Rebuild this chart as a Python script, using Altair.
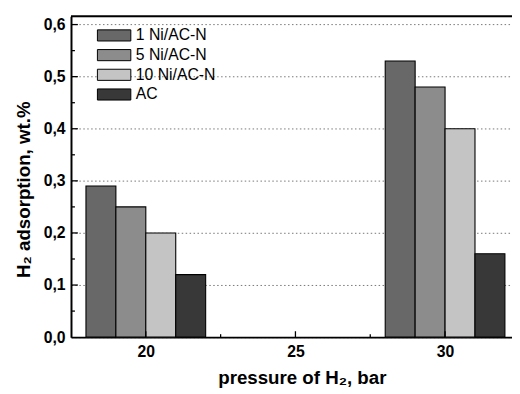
import altair as alt
import pandas as pd

# ---- data ----
pressures = [20, 30]
series = ["1 Ni/AC-N", "5 Ni/AC-N", "10 Ni/AC-N", "AC"]
values_20 = [0.29, 0.25, 0.20, 0.12]
values_30 = [0.53, 0.48, 0.40, 0.16]
colors = ["#686868", "#8c8c8c", "#c4c4c4", "#383838"]

y_major = [0.1, 0.2, 0.3, 0.4, 0.5, 0.6]
y_minor = [0.05, 0.15, 0.25, 0.35, 0.45, 0.55]
x_major = [20, 25, 30]
x_minor = [22.5, 27.5]

rows = []
for p, vals in zip(pressures, [values_20, values_30]):
    for i, (s, v) in enumerate(zip(series, vals)):
        rows.append({"pressure": p, "series": s, "value": v,
                     "x0": p + i - 2, "x1": p + i - 1})
df = pd.DataFrame(rows)

W, H = 448, 326
XDOM = [17.5, 17.5 + W / 30.4]
YDOM = [0, 0.616]
FONT = "Liberation Sans"

xs = alt.Scale(domain=XDOM, nice=False, zero=False)
ys = alt.Scale(domain=YDOM, nice=False, zero=False)

bars = alt.Chart(df).mark_rect(stroke="black", strokeWidth=1.1).encode(
    x=alt.X("x0:Q", scale=xs, axis=alt.Axis(
        values=x_major, ticks=False, grid=False, domainColor="black",
        domainWidth=2, labelFont=FONT, labelFontWeight="bold", labelFontSize=16,
        labelColor="black", labelPadding=7,
        title="pressure of H₂, bar", titleFont=FONT, titleFontWeight="bold",
        titleFontSize=19, titleColor="black", titleX=234.5, titleY=47.5,
        titleAlign="center", titleBaseline="alphabetic", titleAnchor="start")),
    x2="x1:Q",
    y=alt.Y("value:Q", scale=ys, axis=alt.Axis(
        values=[0, 0.1, 0.2, 0.3, 0.4, 0.5, 0.6], ticks=False,
        grid=True, gridColor="#777777", gridDash=[1.5, 2.5], gridWidth=1,
        domainColor="black", domainWidth=2,
        labelExpr="replace(format(datum.value, '.1f'), '.', ',')",
        labelFont=FONT, labelFontWeight="bold", labelFontSize=16,
        labelColor="black", labelPadding=6,
        title="H₂ adsorption, wt.%", titleFont=FONT, titleFontWeight="bold",
        titleFontSize=19, titleColor="black", titleAngle=270,
        titleX=-42.5, titleY=175.7, titleAlign="center",
        titleBaseline="alphabetic", titleAnchor="start")),
    y2=alt.Y2(datum=0),
    fill=alt.Fill("series:N", scale=alt.Scale(domain=series, range=colors),
                  legend=alt.Legend(
                      title=None, orient="none", legendX=35.8, legendY=11.5,
                      direction="vertical", padding=0,
                      symbolType="M-3,-1H3V1H-3Z", symbolSize=128,
                      symbolStrokeColor="black", symbolStrokeWidth=1,
                      symbolOpacity=1,
                      labelFont=FONT, labelFontSize=16, labelColor="black",
                      labelOffset=14, rowPadding=4)),
)

ymaj = alt.Chart(pd.DataFrame({"v": y_major})).mark_rule(
    color="black", strokeWidth=1.3).encode(
    y=alt.Y("v:Q", scale=ys), x=alt.value(0), x2=alt.value(7))
ymin = alt.Chart(pd.DataFrame({"v": y_minor})).mark_rule(
    color="black", strokeWidth=1.3).encode(
    y=alt.Y("v:Q", scale=ys), x=alt.value(0), x2=alt.value(4))
xmaj = alt.Chart(pd.DataFrame({"v": x_major})).mark_rule(
    color="black", strokeWidth=1.3).encode(
    x=alt.X("v:Q", scale=xs), y=alt.value(H), y2=alt.value(H - 6))
xmin = alt.Chart(pd.DataFrame({"v": x_minor})).mark_rule(
    color="black", strokeWidth=1.3).encode(
    x=alt.X("v:Q", scale=xs), y=alt.value(H), y2=alt.value(H - 3))
top = alt.Chart(pd.DataFrame({"v": [YDOM[1]]})).mark_rule(
    color="black", strokeWidth=2).encode(
    y=alt.Y("v:Q", scale=ys), x=alt.value(0), x2=alt.value(W))

chart = alt.layer(bars, ymaj, ymin, xmaj, xmin, top).properties(
    width=W, height=H,
    autosize=alt.AutoSizeParams(type="none"),
    padding={"left": 64, "top": 5.3, "right": 0, "bottom": 54.7},
).configure_view(stroke=None).configure(background="white")

chart.save("out.html", embed_options={"renderer": "svg", "actions": False})
